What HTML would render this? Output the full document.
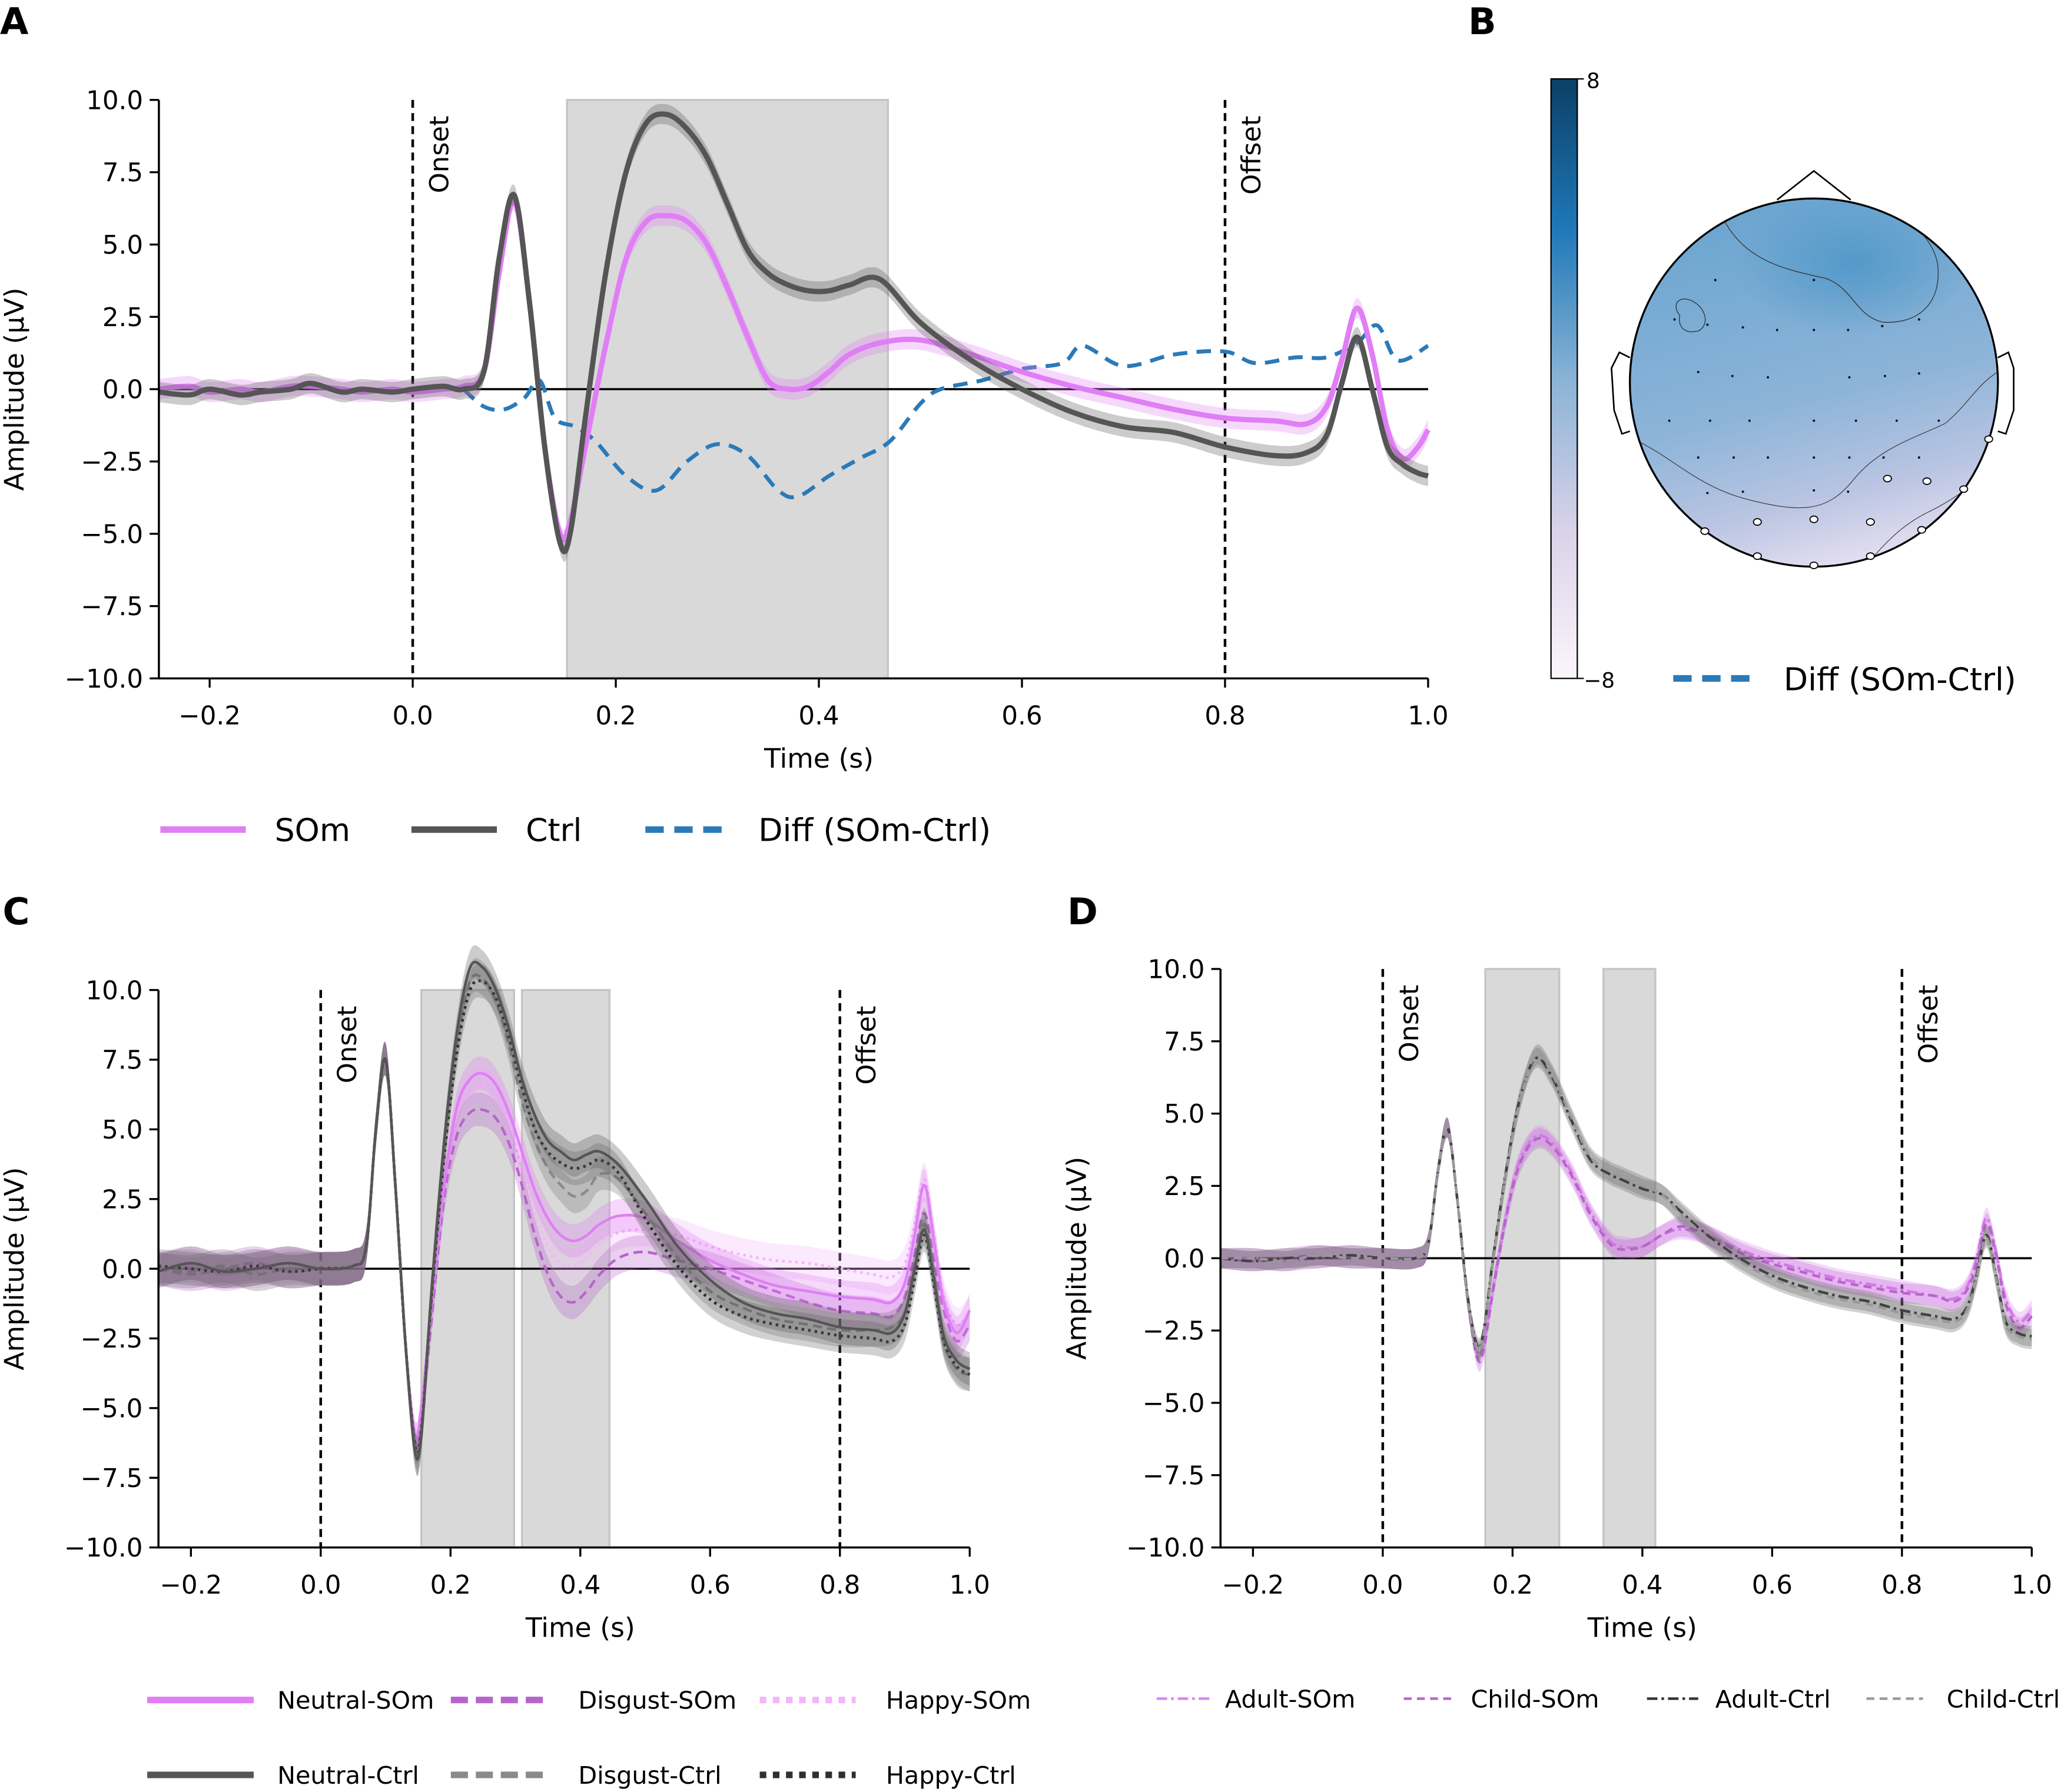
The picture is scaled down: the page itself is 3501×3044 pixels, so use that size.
<!DOCTYPE html>
<html><head><meta charset="utf-8"><style>
html,body{margin:0;padding:0;background:#fff}
svg{display:block;font-family:"DejaVu Sans","Liberation Sans",sans-serif}
</style></head><body>
<svg id="fig" xmlns="http://www.w3.org/2000/svg" width="3501" height="3044" viewBox="0 0 1568 1363" preserveAspectRatio="none">
<defs>
<linearGradient id="cbar" x1="0" y1="1" x2="0" y2="0">
<stop offset="0" stop-color="#fbf5fb"/><stop offset="0.25" stop-color="#d9d2e8"/><stop offset="0.5" stop-color="#8ab3d6"/><stop offset="0.75" stop-color="#1f78b8"/><stop offset="1" stop-color="#0b3f66"/>
</linearGradient>
<linearGradient id="headg" x1="0.35" y1="0" x2="0.6" y2="1">
<stop offset="0" stop-color="#6aa5d0"/><stop offset="0.55" stop-color="#8db4d8"/><stop offset="0.8" stop-color="#b8c4e2"/><stop offset="1" stop-color="#e6dff0"/>
</linearGradient>
<radialGradient id="blob" cx="0.5" cy="0.5" r="0.5"><stop offset="0" stop-color="#4f97c8" stop-opacity="0.9"/><stop offset="1" stop-color="#4f97c8" stop-opacity="0"/></radialGradient>
<clipPath id="headclip"><circle cx="1380" cy="291" r="140"/></clipPath>
</defs>
<g id="root"></g>
</svg>
<script>
// ---------- DATA ----------
const xTicks=[-0.2,0,0.2,0.4,0.6,0.8,1.0];
const xTickLabels=["−0.2","0.0","0.2","0.4","0.6","0.8","1.0"];
const yTicks=[-10,-7.5,-5,-2.5,0,2.5,5,7.5,10];
const yTickLabels=["−10.0","−7.5","−5.0","−2.5","0.0","2.5","5.0","7.5","10.0"];

const tA=[-0.25,-0.22,-0.2,-0.17,-0.15,-0.12,-0.1,-0.07,-0.05,-0.02,0,0.03,0.05,0.07,0.085,0.1,0.115,0.13,0.145,0.155,0.17,0.19,0.21,0.23,0.25,0.27,0.29,0.31,0.33,0.35,0.37,0.39,0.41,0.43,0.46,0.5,0.55,0.6,0.65,0.7,0.75,0.8,0.85,0.88,0.9,0.915,0.93,0.945,0.96,0.975,0.99,1.0];
const somA=[0,0.1,-0.1,0,-0.1,0.1,0.1,0,-0.1,0,-0.1,0,0.1,0.6,4,6.5,3,-2,-5,-4.6,-2,1.5,4.5,5.8,6.0,5.8,5,3.5,1.8,0.3,0,0.1,0.6,1.2,1.6,1.7,1.2,0.6,0.1,-0.3,-0.7,-1.0,-1.1,-1.2,-0.6,1.0,2.8,1.2,-1.4,-2.4,-2.0,-1.4];
const ctrlA=[-0.1,-0.2,0,-0.2,-0.1,0,0.2,-0.1,0,-0.1,0,0.1,0,0.6,4.5,6.7,3,-2,-5.3,-5,-1,4,7.5,9.2,9.5,9.0,8,6.4,4.8,4.0,3.6,3.4,3.4,3.6,3.8,2.3,1.0,0,-0.8,-1.3,-1.5,-2.0,-2.3,-2.2,-1.6,0.2,1.8,0,-2,-2.6,-2.9,-3.0];
const tDiff=[0.05,0.07,0.09,0.11,0.125,0.14,0.16,0.18,0.21,0.24,0.27,0.3,0.33,0.36,0.38,0.41,0.44,0.47,0.5,0.52,0.56,0.6,0.64,0.66,0.7,0.75,0.8,0.83,0.87,0.9,0.93,0.95,0.97,1.0];
const diffA=[0,-0.6,-0.7,-0.3,0.3,-1.0,-1.3,-1.8,-3.0,-3.5,-2.5,-1.9,-2.3,-3.5,-3.7,-3.0,-2.4,-1.8,-0.5,0,0.3,0.7,0.9,1.5,0.8,1.2,1.3,0.9,1.1,1.1,1.6,2.2,1.0,1.5];

const tC=[-0.25,-0.2,-0.15,-0.1,-0.05,0,0.05,0.07,0.085,0.1,0.115,0.13,0.145,0.155,0.17,0.19,0.21,0.23,0.25,0.27,0.29,0.31,0.33,0.35,0.37,0.39,0.41,0.43,0.46,0.5,0.55,0.6,0.65,0.7,0.75,0.8,0.85,0.88,0.9,0.915,0.93,0.945,0.96,0.98,1.0];
const neutralSom=[0,0.1,-0.2,0,0.2,0,0.1,0.8,5,7.5,3,-2.5,-6,-5,-1.5,3,5.8,6.8,7.0,6.6,5.6,4.2,2.8,1.8,1.2,1.0,1.2,1.6,1.9,1.8,1.0,0.3,-0.2,-0.6,-0.8,-1.0,-1.1,-1.2,-0.5,1.2,3.0,1.0,-1.2,-2.3,-1.5];
const disgustSom=[0,-0.2,0,0.2,-0.1,0,0.1,0.8,5,7.5,3,-2.5,-6.2,-5.5,-2,2.5,4.8,5.6,5.7,5.4,4.5,3.0,1.2,-0.2,-1.0,-1.2,-0.8,-0.2,0.4,0.6,0.3,0,-0.4,-0.8,-1.2,-1.5,-1.6,-1.7,-1.0,0.5,2.0,0.3,-1.5,-2.6,-2.0];
const happySom=[0,0.2,0,-0.1,0.1,0,0.1,0.8,5,7.5,3,-2.5,-6,-5,-1.5,3,5.6,6.4,6.6,6.3,5.2,3.6,2.0,0.8,0.2,0.1,0.4,0.9,1.3,1.4,1.2,0.8,0.5,0.3,0.2,0,-0.2,-0.3,0.2,1.6,3.2,1.2,-1.0,-2.0,-1.6];
const neutralCtrl=[-0.1,0.2,-0.1,0,0.2,0,0.1,0.8,5,7.5,3,-2.5,-6.5,-6,-1,4.5,8.5,10.8,10.8,10.0,8.6,6.8,5.5,4.6,4.2,3.9,4.1,4.2,3.7,2.5,0.8,-0.4,-1.2,-1.6,-1.8,-2.1,-2.2,-2.3,-1.6,0,1.4,-0.4,-2.4,-3.3,-3.6];
const disgustCtrl=[0,-0.1,0.1,-0.2,0,0,0.1,0.8,5,7.5,3,-2.5,-6.5,-6,-1.3,4,8.0,10.3,10.4,9.6,8.0,6.0,4.6,3.6,3.0,2.6,2.8,3.4,3.2,2.0,0.4,-0.8,-1.4,-1.8,-2.0,-2.2,-2.2,-2.1,-1.6,0,1.6,-0.2,-2.6,-3.6,-3.8];
const happyCtrl=[0.1,0,-0.1,0.1,-0.1,0,0.1,0.8,5,7.5,3,-2.5,-6.3,-5.8,-1.2,4,7.8,10.0,10.3,9.7,8.3,6.5,5.0,4.2,3.8,3.6,3.7,3.9,3.4,1.8,0.1,-1.1,-1.7,-2.0,-2.2,-2.4,-2.5,-2.6,-2.0,-0.4,1.2,-0.6,-2.6,-3.5,-3.8];

const tD=[-0.25,-0.2,-0.15,-0.1,-0.05,0,0.05,0.07,0.085,0.1,0.115,0.13,0.145,0.155,0.17,0.19,0.21,0.235,0.26,0.29,0.32,0.35,0.37,0.4,0.43,0.46,0.5,0.55,0.6,0.65,0.7,0.75,0.8,0.85,0.88,0.9,0.915,0.93,0.945,0.96,0.98,1.0];
const adultSom=[0,0,-0.1,0,0.1,0,0,0.5,3,4.5,2,-1.2,-3.2,-3.0,-1,1.5,3.3,4.2,4.0,3.0,1.6,0.6,0.4,0.4,0.8,1.0,0.8,0.3,-0.1,-0.4,-0.7,-0.9,-1.1,-1.3,-1.4,-1.0,0,1.4,0.2,-1.4,-2.2,-1.8];
const childSom=[0,-0.1,0,0.1,0,0,0,0.5,3,4.5,2,-1.3,-3.4,-3.2,-1.1,1.4,3.2,4.1,3.9,2.9,1.5,0.5,0.3,0.4,0.8,1.1,0.8,0.2,-0.2,-0.5,-0.8,-1.0,-1.2,-1.3,-1.5,-1.1,-0.2,1.2,0.1,-1.6,-2.4,-2.0];
const adultCtrl=[0,-0.1,0,0,0.1,0,0,0.5,3,4.5,2,-1.2,-3.0,-2.6,0,3,5.4,6.9,6.3,4.8,3.4,2.9,2.7,2.4,2.2,1.6,0.8,0,-0.6,-1.0,-1.3,-1.5,-1.8,-2.0,-2.1,-1.7,-0.6,0.8,-0.6,-2.2,-2.6,-2.7];
const childCtrl=[0,0,-0.1,0.1,0,0,0,0.5,3,4.5,2,-1.3,-3.1,-2.7,-0.1,2.9,5.3,7.0,6.4,4.9,3.5,3.0,2.8,2.5,2.2,1.5,0.7,-0.1,-0.7,-1.1,-1.4,-1.6,-1.9,-2.1,-2.2,-1.8,-0.7,0.7,-0.7,-2.3,-2.7,-2.8];

// ---------- DRAWING ----------
const NS="http://www.w3.org/2000/svg";
const root=document.getElementById('root');
function el(tag,attrs,parent,txt){const e=document.createElementNS(NS,tag);for(const k in attrs)e.setAttribute(k,attrs[k]);if(txt!==undefined)e.textContent=txt;(parent||root).appendChild(e);return e;}
function smooth(pts){let d="M"+pts[0][0].toFixed(2)+","+pts[0][1].toFixed(2);for(let i=0;i<pts.length-1;i++){const p0=pts[Math.max(0,i-1)],p1=pts[i],p2=pts[i+1],p3=pts[Math.min(pts.length-1,i+2)];const c1x=p1[0]+(p2[0]-p0[0])/6,c1y=p1[1]+(p2[1]-p0[1])/6,c2x=p2[0]-(p3[0]-p1[0])/6,c2y=p2[1]-(p3[1]-p1[1])/6;d+="C"+c1x.toFixed(2)+","+c1y.toFixed(2)+" "+c2x.toFixed(2)+","+c2y.toFixed(2)+" "+p2[0].toFixed(2)+","+p2[1].toFixed(2);}return d;}

function panel(cfg){
  const g=el('g',{});
  
  
  const sx=t=>cfg.x0+t*cfg.kx, sy=v=>cfg.y0-v*cfg.ky;
  const L=sx(-0.25),R=sx(1.0),T=sy(10),B=sy(-10);
  cfg.shades.forEach((s,i)=>{const r=el('rect',{x:sx(s[0]),y:T,width:sx(s[1])-sx(s[0]),height:B-T,fill:'#d9d9d9',stroke:'#c4c4c4','stroke-width':1.5},g);
    
    });
  const z=el('line',{x1:L,x2:R,y1:sy(0),y2:sy(0),stroke:'#000','stroke-width':1.6},g);
  
  
  [[0,'Onset'],[0.8,'Offset']].forEach(o=>{
    const l=el('line',{x1:sx(o[0]),x2:sx(o[0]),y1:T,y2:B,stroke:'#000','stroke-width':2,'stroke-dasharray':'6,4'},g);
    
    
    const tx=el('text',{x:0,y:0,'font-size':20,'text-anchor':'end',transform:`translate(${sx(o[0])+27},${T+12}) rotate(-90)`},g,o[1]);
    
    
  });
  cfg.series.forEach(s=>{
    const pts=s.t.map((t,i)=>[sx(t),sy(s.v[i])]);
    if(s.band){const up=s.t.map((t,i)=>[sx(t),sy(s.v[i]+s.band)]),dn=s.t.map((t,i)=>[sx(t),sy(s.v[i]-s.band)]).reverse();
      const bp=el('path',{d:smooth(up)+smooth(dn).replace('M','L')+'Z',fill:s.bandColor||s.color,'fill-opacity':0.3,stroke:'none'},g);
      
      }
    const p=el('path',{d:smooth(pts),fill:'none',stroke:s.color,'stroke-width':s.w,'stroke-dasharray':s.dash||'none','stroke-linecap':s.cap||'butt','stroke-linejoin':'round'},g);
    
    
  });
  const ax=el('path',{d:`M${L},${T}V${B}H${R}`,fill:'none',stroke:'#000','stroke-width':1.6},g);
  
  
  xTicks.forEach((t,i)=>{el('line',{x1:sx(t),x2:sx(t),y1:B,y2:B+7,stroke:'#000','stroke-width':1.5},g);
    const tx=el('text',{x:sx(t),y:B+35,'font-size':19.5,'text-anchor':'middle'},g,xTickLabels[i]);
    
    });
  yTicks.forEach((v,i)=>{el('line',{x1:L-7,x2:L,y1:sy(v),y2:sy(v),stroke:'#000','stroke-width':1.5},g);
    const tx=el('text',{x:L-12,y:sy(v)+7,'font-size':19.5,'text-anchor':'end'},g,yTickLabels[i]);
    
    });
  const xt=el('text',{x:(sx(0.4)),y:B+68,'font-size':20.5,'text-anchor':'middle'},g,'Time (s)');
  
  
  const yt=el('text',{x:0,y:0,'font-size':20.5,'text-anchor':'middle',transform:`translate(${cfg.ytx},${(T+B)/2}) rotate(-90)`},g,'Amplitude (µV)');
  
  
}
const SOM='#e07ef5',CTRL='#555555',DIFF='#2a7ab8',DSOM='#b864cc',HSOM='#f3b6f7',DCTRL='#8a8a8a',HCTRL='#2f2f2f';
panel({name:'panel-a-erp',x0:314,kx:772.5,y0:296,ky:22,ytx:18,shades:[[0.152,0.468]],series:[
 {id:'diff',t:tDiff,v:diffA,color:DIFF,w:3,dash:'11,7'},
 {id:'som',t:tA,v:somA,color:SOM,w:4,band:0.35},
 {id:'ctrl',t:tA,v:ctrlA,color:CTRL,w:4,band:0.35}]});
panel({name:'panel-c-erp-emotion',x0:244,kx:493.75,y0:965,ky:21.2,ytx:18,shades:[[0.155,0.298],[0.31,0.445]],series:[
 {id:'happy-som',t:tC,v:happySom,color:HSOM,w:2,dash:'2,3',band:0.6},
 {id:'disgust-som',t:tC,v:disgustSom,color:DSOM,w:2,dash:'7,4',band:0.6},
 {id:'neutral-som',t:tC,v:neutralSom,color:SOM,w:2,band:0.6},
 {id:'disgust-ctrl',t:tC,v:disgustCtrl,color:DCTRL,w:2,dash:'7,4',band:0.6,bandColor:'#777'},
 {id:'happy-ctrl',t:tC,v:happyCtrl,color:HCTRL,w:2.2,dash:'2,3',band:0.6,bandColor:'#666'},
 {id:'neutral-ctrl',t:tC,v:neutralCtrl,color:CTRL,w:2,band:0.6}]});
panel({name:'panel-d-erp-age',x0:1052,kx:493.75,y0:957,ky:22,ytx:826,shades:[[0.158,0.272],[0.34,0.42]],series:[
 {id:'adult-som',t:tD,v:adultSom,color:SOM,w:2,dash:'8,3,2,3',band:0.35},
 {id:'child-som',t:tD,v:childSom,color:DSOM,w:2,dash:'6,4',band:0.35},
 {id:'adult-ctrl',t:tD,v:adultCtrl,color:'#333',w:2,dash:'8,3,2,3',band:0.35,bandColor:'#666'},
 {id:'child-ctrl',t:tD,v:childCtrl,color:'#999',w:2,dash:'6,4',band:0.35,bandColor:'#666'}]});

// panel letters
[['A',0,26],['B',1117,26],['C',2,703],['D',812,703]].forEach(p=>{const t=el('text',{x:p[1],y:p[2],'font-size':28,'font-weight':'bold'},root,p[0]);
 
 });

// legends
function legend(items,fs){items.forEach(it=>{const g=el('g',{});
 
 
 el('line',{x1:it.x1,x2:it.x2,y1:it.y,y2:it.y,stroke:it.c,'stroke-width':it.w,'stroke-dasharray':it.d||'none'},g);
 el('text',{x:it.tx,y:it.y+fs*0.36,'font-size':fs},g,it.label);});}
legend([{id:'som',x1:122,x2:187,y:631,c:SOM,w:5,tx:209,label:'SOm'},
 {id:'ctrl',x1:313,x2:378,y:631,c:CTRL,w:5,tx:400,label:'Ctrl'},
 {id:'diff',x1:491,x2:553,y:631,c:DIFF,w:5,d:'14,8',tx:577,label:'Diff (SOm-Ctrl)'}],24);
legend([{id:'neutral-som',x1:112,x2:193,y:1293,c:SOM,w:5,tx:211,label:'Neutral-SOm'},
 {id:'disgust-som',x1:343,x2:416,y:1293,c:DSOM,w:5,d:'13,6',tx:440,label:'Disgust-SOm'},
 {id:'happy-som',x1:578,x2:651,y:1293,c:HSOM,w:5,d:'5,5',tx:674,label:'Happy-SOm'},
 {id:'neutral-ctrl',x1:112,x2:193,y:1350,c:CTRL,w:5,tx:211,label:'Neutral-Ctrl'},
 {id:'disgust-ctrl',x1:343,x2:416,y:1350,c:DCTRL,w:5,d:'13,6',tx:440,label:'Disgust-Ctrl'},
 {id:'happy-ctrl',x1:578,x2:651,y:1350,c:HCTRL,w:5,d:'5,5',tx:674,label:'Happy-Ctrl'}],18.5);
legend([{id:'adult-som',x1:880,x2:920,y:1292,c:SOM,w:2,d:'8,3,2,3',tx:932,label:'Adult-SOm'},
 {id:'child-som',x1:1068,x2:1104,y:1292,c:DSOM,w:2,d:'6,4',tx:1119,label:'Child-SOm'},
 {id:'adult-ctrl',x1:1253,x2:1292,y:1292,c:'#333',w:2,d:'8,3,2,3',tx:1305,label:'Adult-Ctrl'},
 {id:'child-ctrl',x1:1420,x2:1463,y:1292,c:'#999',w:2,d:'6,4',tx:1481,label:'Child-Ctrl'}],18.5);

// panel B topomap
const gb=el('g',{});


const cb=el('rect',{x:1180,y:60,width:20,height:456,fill:'url(#cbar)',stroke:'#000','stroke-width':1},gb);


el('line',{x1:1200,x2:1205,y1:60,y2:60,stroke:'#000'},gb);el('line',{x1:1200,x2:1205,y1:516,y2:516,stroke:'#000'},gb);
el('text',{x:1207,y:67,'font-size':16},gb,'8');el('text',{x:1205,y:523,'font-size':16},gb,'−8');
el('path',{d:'M1352,152L1380,130L1408,152',fill:'none',stroke:'#000','stroke-width':1.2},gb);
el('path',{d:'M1240,272L1232,268L1226,280L1228,312L1234,330L1240,328',fill:'none',stroke:'#000','stroke-width':1.2},gb);
el('path',{d:'M1520,272L1528,268L1532,280L1532,312L1526,330L1520,328',fill:'none',stroke:'#000','stroke-width':1.2},gb);
const head=el('circle',{cx:1380,cy:291,r:140,fill:'url(#headg)'},gb);


const cl=el('g',{'clip-path':'url(#headclip)'},gb);
el('ellipse',{cx:1410,cy:200,rx:90,ry:55,fill:'url(#blob)'},cl);
el('path',{d:'M1308,160C1325,200 1360,205 1390,212C1410,220 1412,240 1432,245C1460,247 1478,230 1474,200C1470,180 1450,165 1440,160',fill:'none',stroke:'#333','stroke-width':0.6},cl);
el('path',{d:'M1278,240C1270,230 1280,222 1292,232C1302,242 1296,252 1290,252C1282,254 1276,248 1278,240Z',fill:'none',stroke:'#333','stroke-width':0.6},cl);
el('path',{d:'M1240,333C1270,345 1290,370 1330,380C1370,390 1390,390 1410,365C1430,340 1460,332 1480,322C1500,305 1505,290 1525,280',fill:'none',stroke:'#333','stroke-width':0.5},cl);
el('path',{d:'M1290,405C1320,420 1345,432 1380,432M1420,430C1440,405 1455,395 1470,388C1490,378 1505,365 1525,350',fill:'none',stroke:'#333','stroke-width':0.5},cl);
el('circle',{cx:1380,cy:291,r:140,fill:'none',stroke:'#000','stroke-width':1.5},gb);
[[1305,213],[1380,213],[1274,243],[1299,247],[1326,249],[1352,251],[1380,251],[1406,251],[1432,248],[1460,243],[1292,283],[1318,286],[1345,287],[1407,287],[1434,286],[1460,284],[1270,320],[1301,320],[1331,320],[1380,320],[1412,320],[1443,320],[1475,320],[1292,348],[1319,348],[1345,348],[1380,348],[1407,348],[1433,348],[1460,348],[1299,375],[1326,374],[1380,373],[1406,374]].forEach(p=>el('circle',{cx:p[0],cy:p[1],r:0.9,fill:'#111'},gb));
[[1436,364],[1466,366],[1337,397],[1380,395],[1423,397],[1513,334],[1494,372],[1297,404],[1462,403],[1337,423],[1380,430],[1423,423]].forEach(p=>el('ellipse',{cx:p[0],cy:p[1],rx:3,ry:2.5,fill:'#fff',stroke:'#000','stroke-width':0.8},gb));
const lb=el('g',{},gb);


el('line',{x1:1273,x2:1334,y1:516,y2:516,stroke:DIFF,'stroke-width':5,'stroke-dasharray':'14,8'},lb);
el('text',{x:1357,y:525,'font-size':24},lb,'Diff (SOm-Ctrl)');
</script>
</body></html>
